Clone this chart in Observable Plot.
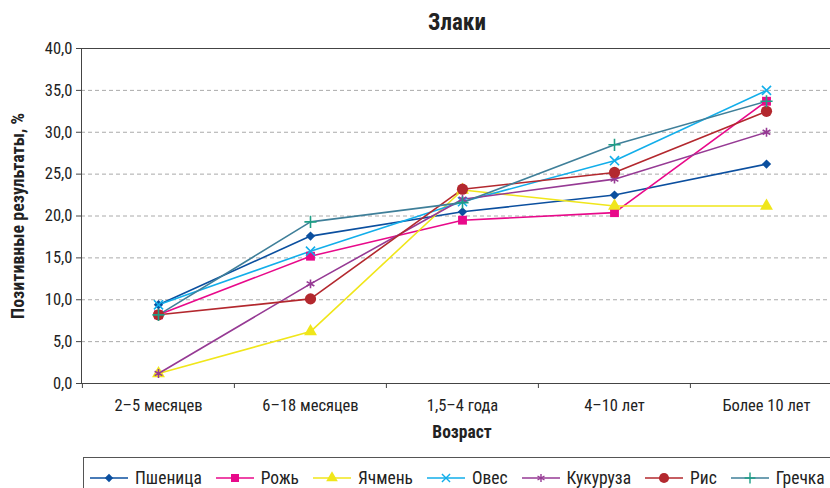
<!DOCTYPE html>
<html>
<head>
<meta charset="utf-8">
<script src="https://cdn.jsdelivr.net/npm/d3@7"></script>
<script src="https://cdn.jsdelivr.net/npm/@observablehq/plot@0.6"></script>
<style>
  html, body { margin: 0; padding: 0; background: #fff; }
  body { width: 830px; height: 488px; overflow: hidden; position: relative;
         font-family: Roboto, "Liberation Sans", sans-serif; font-stretch: condensed; color: #222; }
  #title { position: absolute; top: 9px; left: 457px; transform: translateX(-50%);
           font-size: 23px; font-weight: bold; white-space: nowrap; }
  #chart { position: absolute; top: 0; left: 0; }
  #legend { position: absolute; top: 457px; left: 83px; width: 780px; height: 40px;
            border: 1px solid #555; box-sizing: border-box; display: flex; align-items: flex-start;
            padding-left: 6px; padding-top: 10px; font-size: 17.5px; line-height: 20px; }
  .item { display: flex; align-items: center; margin-right: 14px; white-space: nowrap; }
  .item svg { margin-right: 7px; }
  #chart svg text { font-family: Roboto, "Liberation Sans", sans-serif; font-stretch: condensed; }
</style>
</head>
<body>
<div id="title"></div>
<div id="chart"></div>
<div id="legend"></div>
<script>
const title = "Злаки";
const yLabel = "Позитивные результаты, %";
const xLabel = "Возраст";
const ages = ["2–5 месяцев", "6–18 месяцев", "1,5–4 года", "4–10 лет", "Более 10 лет"];
const yTicks = [0, 5, 10, 15, 20, 25, 30, 35, 40];

const seriesNames = ["Пшеница", "Рожь", "Ячмень", "Овес", "Кукуруза", "Рис", "Гречка"];
const wheat     = [9.4, 17.6, 20.5, 22.5, 26.2];
const rye       = [8.2, 15.2, 19.5, 20.4, 33.7];
const barley    = [1.2, 6.2, 23.1, 21.2, 21.2];
const oats      = [9.4, 15.8, 21.7, 26.6, 35.0];
const corn      = [1.2, 11.9, 22.0, 24.4, 30.0];
const rice      = [8.2, 10.1, 23.2, 25.2, 32.5];
const buckwheat = [8.2, 19.3, 21.6, 28.5, 33.7];
const seriesValues = [wheat, rye, barley, oats, corn, rice, buckwheat];

const lineColors   = ["#0b4f9f", "#e8098a", "#f0e61a", "#12aeea", "#963a94", "#b3282e", "#3f7f99"];
const markerColors = ["#0b4f9f", "#e8098a", "#f0e61a", "#12aeea", "#963a94", "#b3282e", "#1f9e86"];
const symbols      = ["diamond2", "square", "triangle", "times", "asterisk", "circle", "plus"];
const markerR      = [4.2, 5, 4.8, 4.2, 4.2, 5.6, 4];
const filled       = [true, true, true, false, false, true, false];

const data = [];
seriesNames.forEach((s, i) => seriesValues[i].forEach((v, j) => data.push({series: s, age: ages[j], value: v, i})));

document.getElementById("title").textContent = title;

const width = 830, height = 455;
const marginLeft = 81, marginRight = -12, marginTop = 48, marginBottom = 72;
const bw = (width - marginLeft - marginRight) / ages.length;
const fmt = d => d.toFixed(1).replace(".", ",");

const marks = [
  Plot.ruleY(yTicks.filter(d => d > 0 && d < 40), {stroke: "#aaa", strokeDasharray: "4,3", strokeWidth: 1}),
  Plot.ruleY([40], {stroke: "#444"}),
  Plot.ruleY([0], {stroke: "#444"}),
  Plot.frame({anchor: "left", stroke: "#444"}),
  Plot.axisY({ticks: yTicks, tickFormat: fmt, tickSize: 5, tickPadding: 4, fontSize: 16.5, label: null, stroke: "#444"}),
  Plot.axisX({ticks: ages, tickSize: 0, tickPadding: 16, fontSize: 16.5, label: null}),
  Plot.axisX({ticks: ages, tickSize: 5, text: null, dx: -bw / 2, stroke: "#444", label: null}),
  Plot.text([yLabel], {frameAnchor: "left", textAnchor: "middle", rotate: -90, dx: -63, fontWeight: "bold", fontSize: 18, fill: "#222"}),
  Plot.text([xLabel], {frameAnchor: "bottom", dy: 54, fontWeight: "bold", fontSize: 17.5, fill: "#222"})
];

seriesNames.forEach((s, i) => {
  const d = data.filter(r => r.series === s);
  marks.push(Plot.line(d, {x: "age", y: "value", stroke: lineColors[i], strokeWidth: 1.6}));
});
seriesNames.forEach((s, i) => {
  const d = data.filter(r => r.series === s);
  marks.push(Plot.dot(d, {
    x: "age", y: "value", symbol: () => symbols[i], r: markerR[i],
    fill: filled[i] ? markerColors[i] : "none",
    stroke: filled[i] ? "none" : markerColors[i],
    strokeWidth: 1.6
  }));
});

const chart = Plot.plot({
  width, height, marginLeft, marginRight, marginTop, marginBottom,
  style: {overflow: "visible", color: "#222"},
  x: {type: "band", domain: ages, padding: 0},
  y: {domain: [0, 40]},
  symbol: {type: "identity"},
  marks
});
document.getElementById("chart").appendChild(chart);

// legend
const legend = d3.select("#legend");
seriesNames.forEach((s, i) => {
  const item = legend.append("div").attr("class", "item");
  const svg = item.append("svg").attr("width", 38).attr("height", 14);
  svg.append("line").attr("x1", 0).attr("x2", 38).attr("y1", 7).attr("y2", 7)
    .attr("stroke", lineColors[i]).attr("stroke-width", 1.6);
  const sym = {diamond2: d3.symbolDiamond2, square: d3.symbolSquare, triangle: d3.symbolTriangle,
               times: d3.symbolTimes, asterisk: d3.symbolAsterisk, circle: d3.symbolCircle, plus: d3.symbolPlus}[symbols[i]];
  const r = markerR[i] * 0.9;
  svg.append("path").attr("transform", "translate(19,7)")
    .attr("d", d3.symbol(sym, r * r * Math.PI)())
    .attr("fill", filled[i] ? markerColors[i] : "none")
    .attr("stroke", filled[i] ? "none" : markerColors[i])
    .attr("stroke-width", 1.4);
  item.append("span").text(s);
});
</script>
</body>
</html>
